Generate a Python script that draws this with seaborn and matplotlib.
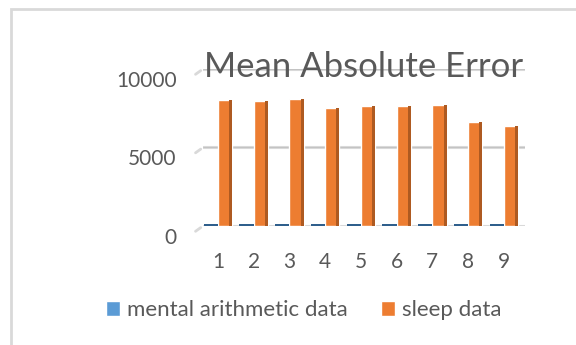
import matplotlib
matplotlib.use("Agg")
import matplotlib.pyplot as plt
import matplotlib.transforms as mtransforms
from matplotlib.patches import Rectangle
import numpy as np
import pandas as pd
import seaborn as sns

# Mean absolute error per run for the two data sets
runs = ["1", "2", "3", "4", "5", "6", "7", "8", "9"]
mental_arithmetic = [110, 110, 110, 110, 110, 110, 110, 110, 110]
sleep = [8030, 7950, 8060, 7540, 7650, 7650, 7720, 6600, 6370]
series_names = ["mental arithmetic data", "sleep data"]
y_ticks = [0, 5000, 10000]

df = pd.DataFrame({
    "run": runs * 2,
    "mae": mental_arithmetic + sleep,
    "series": [series_names[0]] * len(runs) + [series_names[1]] * len(runs),
})

sns.set_theme(style="white")
plt.rcParams["font.family"] = ["Lato", "DejaVu Sans"]
text_color = "#595959"
grid_color = "#d9d9d9"
colors = ["#5b9bd5", "#ed7d31"]
side_colors = ["#2f5f8c", "#ae5a21"]

fig = plt.figure(figsize=(5.76, 3.45), dpi=100)
fig.patch.set_facecolor("white")
ax = fig.add_axes([0.3524, 0.345, 0.559, 0.455])

sns.barplot(data=df, x="run", y="mae", hue="series", palette=colors,
            width=0.8, dodge=True, ax=ax, saturation=1, zorder=3)
handles, labels = ax.get_legend_handles_labels()
if ax.legend_ is not None:
    ax.legend_.remove()

# darker side face on each bar for a shaded, box-like look
for bar in list(ax.patches):
    h = bar.get_height()
    if not np.isfinite(h) or h <= 0:
        continue
    x0, w = bar.get_x(), bar.get_width()
    fc = bar.get_facecolor()
    is_blue = fc[2] > fc[0]
    side = side_colors[0] if is_blue else side_colors[1]
    frac = 1.0 if is_blue else 0.22
    ax.add_patch(Rectangle((x0 + w * (1 - frac), 0), w * frac, h,
                           facecolor=side, edgecolor="none", zorder=4))

ax.set_xlim(-0.42, 8.59)
ax.set_ylim(0, 10000)
ax.set_yticks(y_ticks)
ax.set_yticklabels([str(v) for v in y_ticks])
ax.set_xlabel("")
ax.set_ylabel("")
for s in ax.spines.values():
    s.set_visible(False)

# horizontal gridlines with a short slanted stub on the left
stub = mtransforms.blended_transform_factory(ax.transAxes, ax.transData)
for v in y_ticks:
    ax.axhline(v, color=grid_color, lw=2.2, zorder=1)
    ax.axhline(v, color="#bfbfbf", lw=0.6, zorder=1)
    ax.annotate("", xy=(0, v), xycoords=stub,
                xytext=(-7, -5), textcoords="offset points",
                arrowprops=dict(arrowstyle="-", color=grid_color, lw=2),
                annotation_clip=False)

ax.tick_params(axis="x", length=0, pad=19, labelsize=15, labelcolor=text_color)
ax.tick_params(axis="y", length=0, pad=19, labelsize=15, labelcolor=text_color)
shift = mtransforms.ScaledTranslation(0, -10 / 100, fig.dpi_scale_trans)
for lab in ax.get_yticklabels():
    lab.set_transform(lab.get_transform() + shift)

fig.text(0.632, 0.777, "Mean Absolute Error", ha="center", va="baseline",
         fontsize=25, color=text_color, zorder=0)

fig.legend(handles, labels, loc="center", bbox_to_anchor=(0.527, 0.101),
           ncol=2, frameon=False, fontsize=16, labelcolor=text_color,
           handlelength=0.65, handleheight=0.65, handletextpad=0.3,
           columnspacing=1.5)

# outer chart border
fig.patches.append(Rectangle((11 / 576, -0.1), 1.2, 1 - 9 / 345 + 0.1,
                             transform=fig.transFigure, fill=False,
                             edgecolor=grid_color, lw=2, zorder=0))

fig.savefig("out.png", dpi=100, facecolor="white")
